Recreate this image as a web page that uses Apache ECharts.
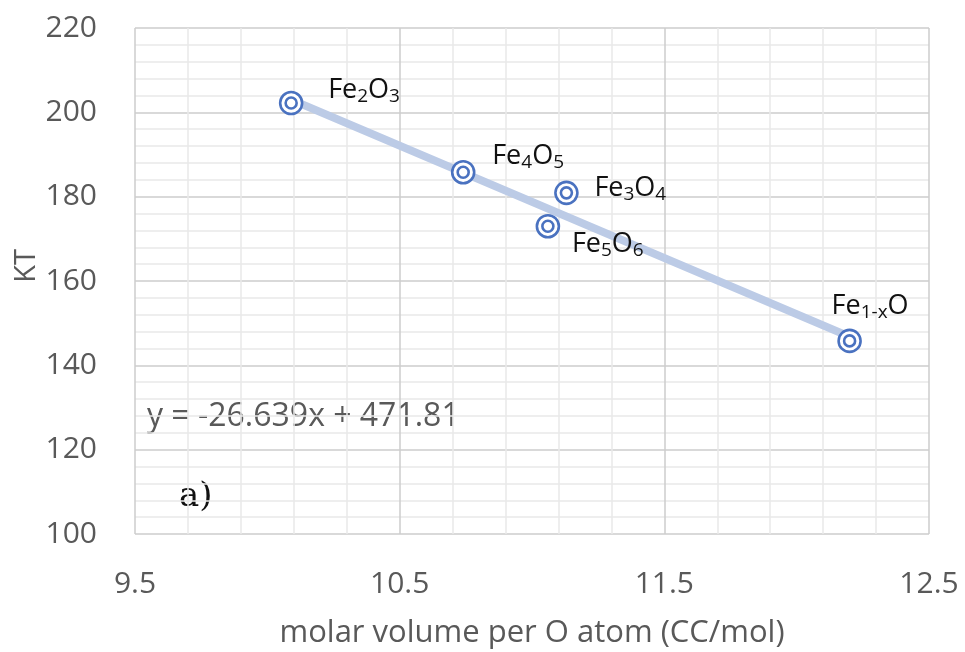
<!DOCTYPE html>
<html>
<head>
<meta charset="utf-8">
<script src="https://cdn.jsdelivr.net/npm/echarts@6/dist/echarts.min.js"></script>
<style>
html, body { margin: 0; padding: 0; background: #fff; }
#chart { width: 965px; height: 652px; }
</style>
</head>
<body>
<div id="chart"></div>
<script>
// Iron oxide phases: bulk modulus term KT versus molar volume per O atom
const phases = ['Fe2O3', 'Fe4O5', 'Fe3O4', 'Fe5O6', 'Fe1-xO'];
const phaseLabels = ['Fe{s|2}O{s|3}', 'Fe{s|4}O{s|5}', 'Fe{s|3}O{s|4}', 'Fe{s|5}O{s|6}', 'Fe{s|1-x}O'];
const molarVolume = [10.09, 10.74, 11.13, 11.06, 12.20];
const kt = [202.2, 185.8, 180.9, 173.0, 145.8];

// Linear fit reported on the chart
const slope = -26.639;
const intercept = 471.81;

// Axis ranges and tick steps
const xMin = 9.5, xMax = 12.5, xStep = 1;
const yMin = 100, yMax = 220, yStep = 20;

// Label placement next to each marker (pixels, from marker centre)
const labelOffsets = [[37, -13], [29, -16], [28, -5], [24, 18], [-18, -35]];

const FONT = '"Open Sans", "Liberation Sans", sans-serif';
const GREY = '#595959';
const MARK = '#4a72c0';

// Trend line across the fitted data range
const fitX0 = Math.min(...molarVolume);
const fitX1 = Math.max(...molarVolume);
const trendData = [[fitX0, slope * fitX0 + intercept], [fitX1, slope * fitX1 + intercept]];

const points = molarVolume.map((x, i) => ({
  name: phases[i],
  value: [x, kt[i]],
  label: {
    show: true,
    formatter: phaseLabels[i],
    position: 'inside',
    align: 'left',
    verticalAlign: 'middle',
    offset: labelOffsets[i]
  }
}));

const chart = echarts.init(document.getElementById('chart'), null, { renderer: 'canvas' });

chart.setOption({
  backgroundColor: '#ffffff',
  animation: false,
  grid: { left: 135, right: 36, top: 28, bottom: 118, containLabel: false, outerBoundsMode: 'none' },
  xAxis: {
    type: 'value',
    min: xMin, max: xMax, interval: xStep,
    name: 'molar volume per O atom (CC/mol)',
    nameLocation: 'middle',
    nameGap: 84,
    nameMoveOverlap: false,
    nameTextStyle: { fontFamily: FONT, fontSize: 31, color: GREY },
    axisLine: { show: false },
    axisTick: { show: false },
    axisLabel: {
      margin: 35,
      fontFamily: FONT, fontSize: 30, color: GREY,
      formatter: v => v.toFixed(1)
    },
    splitLine: { show: true, lineStyle: { color: '#cccccc', width: 1.5 } },
    minorTick: { show: false, splitNumber: 5 },
    minorSplitLine: { show: true, lineStyle: { color: '#e9e9e9', width: 1.5 } }
  },
  yAxis: {
    type: 'value',
    min: yMin, max: yMax, interval: yStep,
    axisLine: { show: false },
    axisTick: { show: false },
    axisLabel: {
      margin: 38,
      fontFamily: FONT, fontSize: 30, color: GREY,
      formatter: v => String(v)
    },
    splitLine: { show: true, lineStyle: { color: '#cccccc', width: 1.5 } },
    minorTick: { show: false, splitNumber: 5 },
    minorSplitLine: { show: true, lineStyle: { color: '#e9e9e9', width: 1.5 } }
  },
  series: [
    {
      name: 'Linear fit',
      type: 'line',
      data: trendData,
      symbol: 'none',
      silent: true,
      z: 2,
      lineStyle: { color: '#bccbe6', width: 8, cap: 'round' }
    },
    {
      name: 'KT',
      type: 'scatter',
      data: points,
      symbol: 'circle',
      symbolSize: 22,
      z: 3,
      itemStyle: { color: '#ffffff', borderColor: MARK, borderWidth: 2.6, opacity: 1 },
      label: {
        fontFamily: FONT, fontSize: 27, color: '#111111', lineHeight: 32,
        rich: {
          s: { fontFamily: FONT, fontSize: 19, color: '#111111', lineHeight: 11, verticalAlign: 'bottom' }
        }
      }
    },
    {
      name: 'KT core',
      type: 'scatter',
      data: molarVolume.map((x, i) => [x, kt[i]]),
      symbol: 'circle',
      symbolSize: 11,
      z: 4,
      silent: true,
      itemStyle: { color: '#ffffff', borderColor: MARK, borderWidth: 2.6, opacity: 1 }
    }
  ],
  graphic: [
    {
      // y-axis title, rotated to read bottom-to-top
      type: 'text',
      x: 27, y: 266,
      rotation: Math.PI / 2,
      style: {
        text: 'KT',
        fontFamily: FONT, fontSize: 29, fill: GREY,
        align: 'center', verticalAlign: 'middle'
      }
    },
    {
      type: 'text',
      x: 147, y: 417,
      style: {
        text: 'y = -26.639x + 471.81',
        fontFamily: FONT, fontSize: 32, fill: GREY,
        verticalAlign: 'middle'
      }
    },
    {
      type: 'text',
      x: 179, y: 497,
      style: {
        text: 'a)',
        fontFamily: '"DejaVu Serif", "Liberation Serif", serif',
        fontSize: 34, fill: '#111111',
        verticalAlign: 'middle'
      }
    }
  ]
});
</script>
</body>
</html>
